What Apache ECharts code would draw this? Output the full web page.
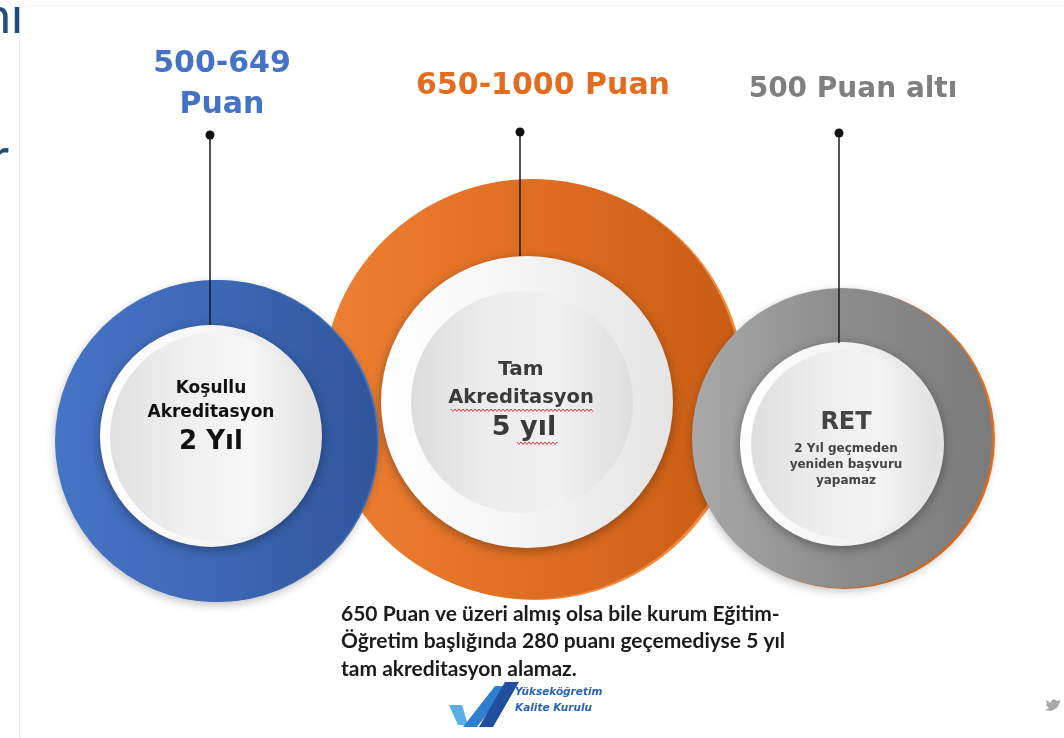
<!DOCTYPE html>
<html>
<head>
<meta charset="utf-8">
<script src="https://cdn.jsdelivr.net/npm/echarts@6/dist/echarts.min.js"></script>
<style>
  html, body { margin: 0; padding: 0; background: #fff; }
  #chart { width: 1064px; height: 738px; }
</style>
</head>
<body>
<div id="chart"></div>
<script>
// score bands, outcomes and texts of the infographic
const scoreBands = ['500-649', '650-1000 Puan', '500 Puan altı'];
const bandUnit = 'Puan';
const outcomes = [['Koşullu', 'Akreditasyon'], ['Tam', 'Akreditasyon'], ['RET']];
const periods = ['2 Yıl', '5 yıl', ''];
const notes = [[], [], ['2 Yıl geçmeden', 'yeniden başvuru', 'yapamaz']];
const footnote = [
  '650 Puan ve üzeri almış olsa bile kurum Eğitim-',
  'Öğretim başlığında 280 puanı geçemediyse 5 yıl',
  'tam akreditasyon alamaz.'
];
const logoLines = ['Yükseköğretim', 'Kalite Kurulu'];

const chart = echarts.init(document.getElementById('chart'));

const grad = (stops) => ({
  type: 'linear', x: 0, y: 0, x2: 1, y2: 0, global: false,
  colorStops: stops.map((c, i) => ({ offset: i / (stops.length - 1), color: c }))
});

const BOLD = '"DejaVu Sans", sans-serif';

// one filled disc, placed on a hidden pixel-sized cartesian grid
function disc(name, c, color, style) {
  return {
    type: 'scatter',
    name: name,
    silent: true,
    animation: false,
    symbol: 'circle',
    symbolSize: c[2] * 2,
    emphasis: { disabled: true },
    itemStyle: Object.assign({ color: color, opacity: 1 }, style || {}),
    data: [[c[0], c[1]]]
  };
}

const plateShadow = { shadowBlur: 12, shadowColor: 'rgba(0,0,0,0.35)', shadowOffsetX: 0, shadowOffsetY: 3 };
const ringShadow = { shadowBlur: 10, shadowColor: 'rgba(0,0,0,0.25)', shadowOffsetX: 0, shadowOffsetY: 3 };

const series = [
  // orange (behind)
  disc('rim1', [535, 390, 210], '#f18a3c'),
  disc(outcomes[1].join(' '), [532, 389, 210], grad(['#ee7f33', '#e06e22', '#c85c13'])),
  disc('plate1', [527, 402, 146], grad(['#ffffff', '#f4f4f4', '#e4e4e4']), plateShadow),
  disc('disc1', [522, 402, 111], grad(['#dcdcdc', '#ececec', '#f0f0f0', '#dedede'])),
  // blue
  disc('rim0', [218, 441, 161], '#4b7fcf'),
  disc(outcomes[0].join(' '), [216, 441, 161], grad(['#4674c6', '#3d68b6', '#2f559c']), ringShadow),
  disc('plate0', [211, 436, 111], grad(['#ffffff', '#f6f6f6', '#e2e2e2']), plateShadow),
  disc('disc0', [214, 437, 104], grad(['#e0e0e0', '#eeeeee', '#f7f7f7', '#e2e2e2'])),
  // gray
  disc('rim2', [845, 439, 150], '#ec7b2c'),
  disc(outcomes[2].join(' '), [842, 438, 150], grad(['#a9a9a9', '#8c8c8c', '#7b7b7b']), ringShadow),
  disc('plate2', [842, 444, 102], grad(['#ffffff', '#f4f4f4', '#e2e2e2']), plateShadow),
  disc('disc2', [845, 444, 94], grad(['#dedede', '#ececec', '#f4f4f4', '#e0e0e0']))
];

function txt(x, y, text, size, fill, opts) {
  return {
    type: 'text', x: x, y: y, z: 100, silent: true,
    style: Object.assign({
      text: text, fontSize: size, fontFamily: BOLD, fontWeight: 'bold',
      fill: fill, align: 'center', verticalAlign: 'middle'
    }, opts || {})
  };
}

function connector(x, y1, y2) {
  return [
    { type: 'line', z: 100, silent: true, shape: { x1: x, y1: y1, x2: x, y2: y2 }, style: { stroke: '#1a1a1a', lineWidth: 1.5 } },
    { type: 'circle', z: 101, silent: true, shape: { cx: x, cy: y1, r: 4.5 }, style: { fill: '#111' } }
  ];
}

function squiggle(x1, x2, y) {
  const pts = [];
  for (let x = x1, k = 0; x <= x2; x += 2, k++) pts.push([x, y + (k % 2 ? 1.5 : -1)]);
  return { type: 'polyline', z: 102, silent: true, shape: { points: pts }, style: { stroke: '#e83535', lineWidth: 1, fill: null } };
}

const elements = [
  // slide frame and cut-off title
  { type: 'line', z: 1, silent: true, shape: { x1: 19.5, y1: 5, x2: 19.5, y2: 738 }, style: { stroke: '#efefef', lineWidth: 1 } },
  { type: 'line', z: 1, silent: true, shape: { x1: 19.5, y1: 5.5, x2: 1064, y2: 5.5 }, style: { stroke: '#f2f2f2', lineWidth: 1 } },
  txt(23, -8, 'nı', 50, '#1f4e79', { fontFamily: 'Lato', fontWeight: 'normal', align: 'right', verticalAlign: 'top' }),
  txt(9, 133, 'r', 50, '#1f4e79', { fontFamily: 'Lato', fontWeight: 'normal', align: 'right', verticalAlign: 'top' }),

  // headers
  txt(222, 64, scoreBands[0], 30, '#4472c4'),
  txt(222, 105, bandUnit, 30, '#4472c4'),
  txt(543, 86, scoreBands[1], 30, '#e46c1e'),
  txt(853, 90, scoreBands[2], 28, '#7f7f7f'),

  ...connector(210, 135, 325),
  ...connector(520, 132, 256),
  ...connector(839, 133, 343),

  // blue circle text
  txt(211, 389, outcomes[0][0], 17, '#111'),
  txt(211, 413, outcomes[0][1], 17, '#111'),
  txt(211, 442, periods[0], 26, '#111'),
  // orange circle text
  txt(521, 370, outcomes[1][0], 20, '#3a3a3a'),
  txt(521, 398, outcomes[1][1], 19.5, '#3a3a3a'),
  txt(524, 428, periods[1], 27, '#3a3a3a'),
  squiggle(451, 593, 410),
  squiggle(517, 557, 443),
  // gray circle text
  txt(846, 423, outcomes[2][0], 24, '#444'),
  txt(846, 449, notes[2][0], 12, '#444'),
  txt(846, 465, notes[2][1], 12, '#444'),
  txt(846, 481, notes[2][2], 12, '#444'),

  // footnote
  ...footnote.map((line, i) => txt(341, 614 + i * 27.5, line, 21, '#1b1b1b',
    { fontFamily: 'Lato', align: 'left' })),

  // logo
  { type: 'polygon', z: 100, silent: true, shape: { points: [[449, 705], [462, 705], [468, 725], [458, 725]] }, style: { fill: '#5aaee6' } },
  { type: 'polygon', z: 100, silent: true, shape: { points: [[463, 727], [477, 727], [508, 686], [495, 686]] }, style: { fill: '#2e7fd0' } },
  { type: 'polygon', z: 100, silent: true, shape: { points: [[479, 727], [493, 727], [519, 682], [505, 682]] }, style: { fill: '#1f4f9e' } },
  txt(515, 692, logoLines[0], 10.5, '#2a62b8', { align: 'left', fontStyle: 'italic' }),
  txt(515, 708, logoLines[1], 10.5, '#2a62b8', { align: 'left', fontStyle: 'italic' }),

  // small bird glyph
  { type: 'polygon', z: 100, silent: true,
    shape: { points: [[1060, 700], [1057, 701], [1054, 699], [1051, 701], [1051, 703], [1046, 700], [1047, 704], [1046, 705], [1049, 708], [1045, 710], [1051, 711], [1057, 708], [1060, 702]] },
    style: { fill: '#a8a8a8' } }
];

chart.setOption({
  animation: false,
  backgroundColor: '#ffffff',
  grid: { left: 0, right: 0, top: 0, bottom: 0, containLabel: false },
  xAxis: { type: 'value', min: 0, max: 1064, show: false, splitLine: { show: false } },
  yAxis: { type: 'value', min: 0, max: 738, inverse: true, show: false, splitLine: { show: false } },
  series: series,
  graphic: { elements: elements }
});

window.addEventListener('resize', () => chart.resize());
</script>
</body>
</html>
